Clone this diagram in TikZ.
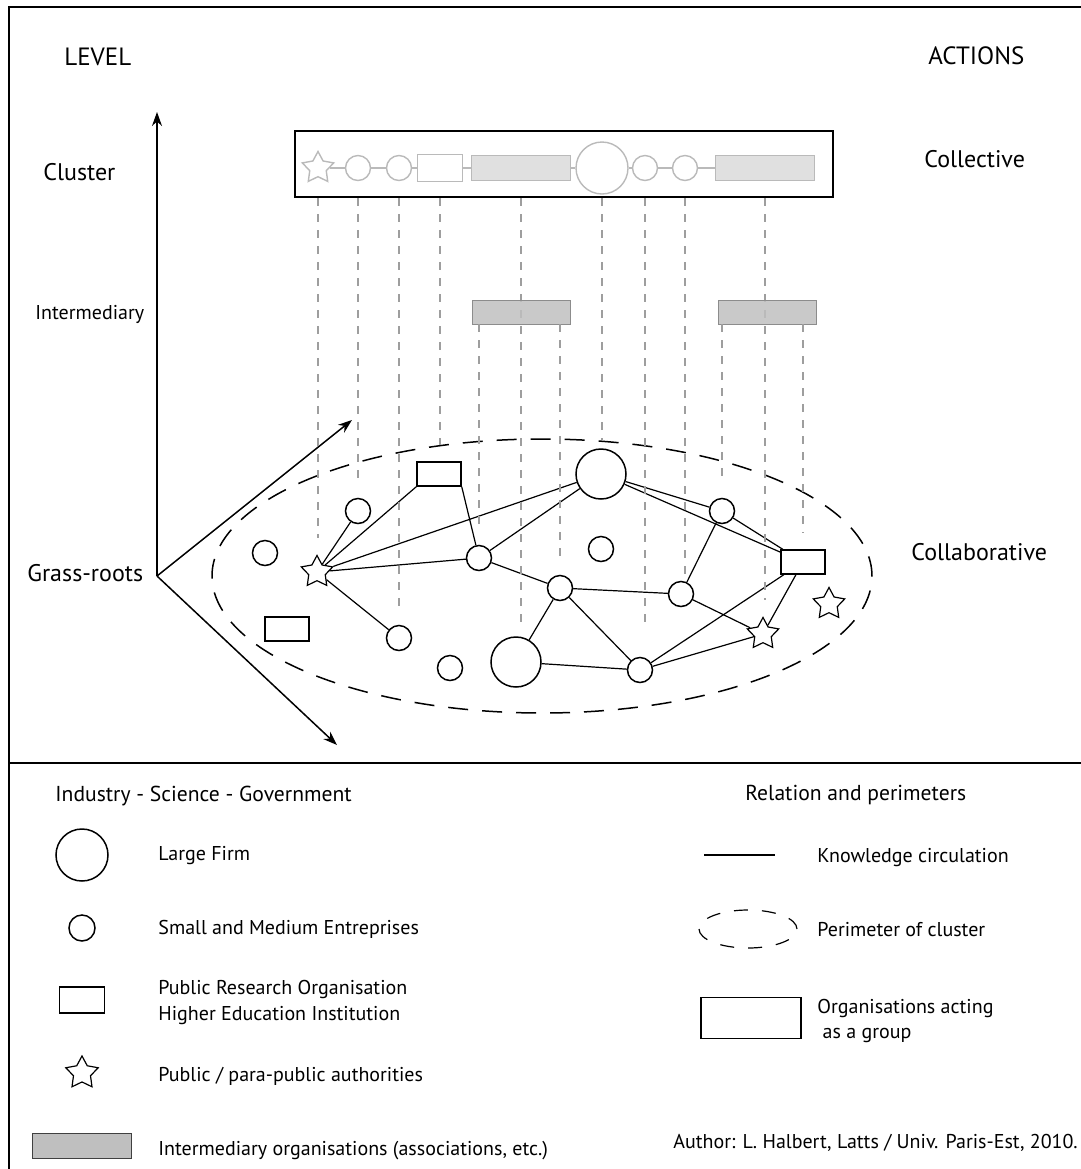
\documentclass[tikz,border=0pt]{standalone}
\usepackage{fontspec}
\setmainfont{PT Sans}
\usepackage{tikz}
\usetikzlibrary{arrows}
\usetikzlibrary{arrows.meta}
\usetikzlibrary{shapes.geometric}
\tikzstyle{lf}=[circle, draw, line width=0.75pt, minimum size=25pt, inner sep=0pt, fill=white]
\tikzstyle{sme}=[circle, draw, line width=0.75pt, minimum size=12.5pt, inner sep=0pt, fill=white]
\tikzstyle{pro}=[rectangle, draw, line width=0.75pt, minimum width=22pt, minimum height=12pt, inner sep=0pt, fill=white]
\tikzstyle{auth}=[star, star points=5, star point ratio=1.9, draw, line width=0.6pt, minimum size=16.5pt, inner sep=0pt, fill=white]
\tikzstyle{inter}=[rectangle, draw=black!45, fill=black!25, fill opacity=0.85, minimum width=49pt, minimum height=12pt, inner sep=0pt]
\tikzstyle{ghost}=[draw=black!27, line width=0.7pt]
\tikzstyle{grp}=[rectangle, fill=black!12, minimum width=49.5pt, minimum height=12.5pt, inner sep=0pt]
\tikzstyle{know}=[line width=0.6pt]
\tikzstyle{proj}=[draw=black!38, line width=0.6pt, dash pattern=on 4pt off 4pt, shorten >=8pt]
\tikzstyle{perim}=[line width=0.75pt, dash pattern=on 10pt off 7pt]
\tikzstyle{axis}=[line width=0.75pt, -{Stealth[length=7pt, width=5pt]}]
\tikzstyle{big}=[inner sep=0pt, anchor=base west, font=\fontsize{12.5}{15}\selectfont]
\tikzstyle{mid}=[inner sep=0pt, anchor=base west, font=\fontsize{12}{14}\selectfont]
\tikzstyle{small}=[inner sep=0pt, anchor=base west, font=\fontsize{10}{12}\selectfont]
\tikzstyle{head}=[inner sep=0pt, anchor=base west, font=\fontsize{10.8}{13}\selectfont]

\begin{document}
\begin{tikzpicture}[x=0.5pt, y=-0.5pt]
	\useasboundingbox (0,0) rectangle (1081,1169);
	% frame
	\draw[line width=0.75pt] (9,1169) -- (9,7) -- (1081,7);
	\draw[line width=0.75pt] (9,763) -- (1081,763);
	% titles
	\draw (64,65) node[big] (level) {LEVEL};
	\draw (928,64) node[big] (actions) {ACTIONS};
	\draw (43,180) node[mid] (cluster) {Cluster};
	\draw (924,167) node[mid] (collective) {Collective};
	\draw (35,319) node[small] (intermediary) {Intermediary};
	\draw (27,581) node[mid] (grass) {Grass-roots};
	\draw (911,560) node[mid] (collab) {Collaborative};
	% axes
	\coordinate (o) at (157,576);
	\coordinate (up) at (157,112);
	\coordinate (ne) at (352,420);
	\coordinate (se) at (337,745);
	\draw[axis] (o) -- (up);
	\draw[axis] (o) -- (ne);
	\draw[axis] (o) -- (se);
	% collective level
	\draw (564,164) node[draw, line width=1pt, minimum width=269pt, minimum height=33pt, inner sep=0pt] (cbox) {};
	\draw (318,168) node[auth, ghost] (ts) {};
	\draw (358,168) node[sme, ghost] (tc1) {};
	\draw (399,168) node[sme, ghost] (tc2) {};
	\draw (440,168) node[pro, ghost, minimum width=22.5pt, minimum height=13.5pt] (tp) {};
	\draw (521,168) node[grp, ghost] (tg1) {};
	\draw (602,168) node[lf, ghost, minimum size=26pt] (tl) {};
	\draw (645,168) node[sme, ghost] (tc3) {};
	\draw (685,168) node[sme, ghost] (tc4) {};
	\draw (765,168) node[grp, ghost] (tg2) {};
	\draw[ghost] (ts) -- (tc1) -- (tc2) -- (tp) -- (tg1) -- (tl) -- (tc3) -- (tc4) -- (tg2);
	% perimeter
	\draw[perim] (542,576) ellipse [x radius=165pt, y radius=68.5pt];
	% grass-roots level
	\draw (439,474) node[pro] (rt) {};
	\draw (358,511) node[sme] (a) {};
	\draw (265,553) node[sme] (b) {};
	\draw (317,572) node[auth] (s1) {};
	\draw (287,629) node[pro] (rl) {};
	\draw (399,638) node[sme] (c) {};
	\draw (450,668) node[sme] (d) {};
	\draw (516,662) node[lf] (l1) {};
	\draw (479,558) node[sme] (e) {};
	\draw (560,588) node[sme] (f) {};
	\draw (601,474) node[lf] (l2) {};
	\draw (601,549) node[sme] (g) {};
	\draw (722,511) node[sme] (h) {};
	\draw (803,562) node[pro] (rr) {};
	\draw (681,594) node[sme] (i) {};
	\draw (640,670) node[sme] (j) {};
	\draw (763,634) node[auth] (s2) {};
	\draw (829,604) node[auth] (s3) {};
	% knowledge circulation
	\draw[know] (s1) -- (a);
	\draw[know] (s1) -- (rt.south west);
	\draw[know] (s1) -- (l2);
	\draw[know] (s1) -- (e);
	\draw[know] (s1) -- (c);
	\draw[know] (rt.south east) -- (e);
	\draw[know] (e) -- (l2);
	\draw[know] (e) -- (f);
	\draw[know] (f) -- (l1);
	\draw[know] (f) -- (i);
	\draw[know] (f) -- (j);
	\draw[know] (l1) -- (j);
	\draw[know] (l2) -- (h);
	\draw[know] (l2) -- (rr);
	\draw[know] (h) -- (rr);
	\draw[know] (h) -- (i);
	\draw[know] (i) -- (s2);
	\draw[know] (rr) -- (j);
	\draw[know] (rr) -- (s2);
	\draw[know] (j) -- (s2);
	% projections
	\draw[proj] (ts |- cbox.south) -- (ts |- s1.north);
	\draw[proj] (tc1 |- cbox.south) -- (tc1 |- a.north);
	\draw[proj] (tc2 |- cbox.south) -- (tc2 |- c.north);
	\draw[proj] (tp |- cbox.south) -- (tp |- rt.north);
	\draw[proj, shorten >=4pt] (tg1 |- cbox.south) -- (tg1 |- l1.north);
	\draw[proj, shorten >=4pt] (tl |- cbox.south) -- (tl |- l2.north);
	\draw[proj, shorten >=15pt] (tc3 |- cbox.south) -- (tc3 |- j.north);
	\draw[proj, shorten >=2pt] (tc4 |- cbox.south) -- (tc4 |- i.north);
	\draw[proj] (tg2 |- cbox.south) -- (tg2 |- s2.north);
	% intermediary level
	\draw (521,312) node[inter] (ib1) {};
	\draw (767,312) node[inter] (ib2) {};
	\draw[proj] (e |- ib1.south) -- (e.north);
	\draw[proj] (f |- ib1.south) -- (f.north);
	\draw[proj] (h |- ib2.south) -- (h.north);
	\draw[proj] (rr |- ib2.south) -- (rr.north);
	% legend
	\draw (55,801) node[head] (khead) {Industry - Science - Government};
	\draw (82,855) node[lf, minimum size=26pt] (klf) {};
	\draw (158,860) node[small] {Large Firm};
	\draw (82,928) node[sme, minimum size=13pt] (ksme) {};
	\draw (158,934) node[small] {Small and Medium Entreprises};
	\draw (82,1000) node[pro, minimum width=22.5pt, minimum height=13pt] (kpro) {};
	\draw (158,994) node[small] {Public Research Organisation};
	\draw (158,1020) node[small] {Higher Education Institution};
	\draw (82,1073) node[auth, minimum size=17pt] (kauth) {};
	\draw (158,1081) node[small] {Public / para-public authorities};
	\draw (82,1146) node[inter, draw=black!75, fill opacity=1, minimum width=49.5pt, minimum height=12.5pt] (kinter) {};
	\draw (158,1155) node[small] {Intermediary organisations (associations, etc.)};
	\draw (745,800) node[head] (rhead) {Relation and perimeters};
	\coordinate (kk1) at (704,855);
	\coordinate (kk2) at (775,855);
	\draw[know] (kk1) -- (kk2);
	\draw (817,862) node[small] {Knowledge circulation};
	\draw[perim, dash pattern=on 7pt off 7pt, line width=0.6pt] (748,929) ellipse [x radius=24.5pt, y radius=9.5pt];
	\draw (817,936) node[small] {Perimeter of cluster};
	\draw (751,1018) node[draw, line width=0.6pt, minimum width=50pt, minimum height=20.5pt, inner sep=0pt] (kgrp) {};
	\draw (817,1013) node[small] {Organisations acting};
	\draw (817,1038) node[small] {\ as a group};
	\draw (673,1148) node[small] (author) {Author: L. Halbert, Latts / Univ. Paris-Est, 2010.};
\end{tikzpicture}
\end{document}
